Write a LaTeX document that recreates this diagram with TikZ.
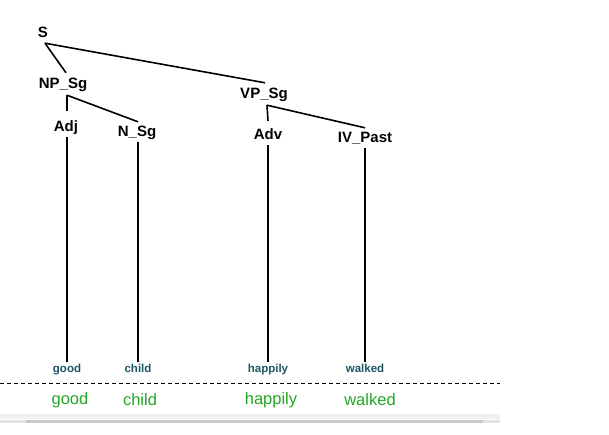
\documentclass[tikz,border=0pt]{standalone}
\usepackage{fontspec}
\setmainfont{Liberation Sans}
\definecolor{leafcol}{HTML}{1B5566}
\definecolor{wordcol}{HTML}{22A822}
\definecolor{bandA}{HTML}{F0F0F0}
\definecolor{bandB}{HTML}{E2E2E2}
\definecolor{bandC}{HTML}{C8C8C8}
\begin{document}
\begin{tikzpicture}[x=1pt,y=-1pt,
  cat/.style={font=\fontsize{15}{18}\selectfont\bfseries, inner sep=2pt, text height=11pt, text depth=3pt},
  leaf/.style={font=\fontsize{11.5}{14}\selectfont\bfseries, text=leafcol, inner sep=1pt, text height=8.5pt, text depth=2.5pt},
  word/.style={font=\fontsize{16.5}{20}\selectfont, text=wordcol, inner sep=0pt},
  edge/.style={line width=1.6pt, black}]
\useasboundingbox (0,0) rectangle (609,435);
\fill[white] (0,0) rectangle (609,435);
% category nodes
\node[cat] (S) at (43,34) {S};
\node[cat] (NP) at (63,85) {NP\_Sg};
\node[cat] (Adj) at (66,128) {Adj};
\node[cat] (N) at (137,133) {N\_Sg};
\node[cat] (VP) at (264,95) {VP\_Sg};
\node[cat] (Adv) at (268,136) {Adv};
\node[cat] (IV) at (365,139) {IV\_Past};
% leaves
\node[leaf] (lgood) at (67,369) {good};
\node[leaf] (lchild) at (138,369) {child};
\node[leaf] (lhappily) at (268,369) {happily};
\node[leaf] (lwalked) at (365,369) {walked};
% words
\node[word] (wgood) at (70,400) {good};
\node[word] (wchild) at (140,400) {child};
\node[word] (whappily) at (271,400) {happily};
\node[word] (wwalked) at (370,400) {walked};
% edges
\draw[edge] ([xshift=2pt]S.south) -- ([xshift=3pt,yshift=3pt]NP.north);
\draw[edge] ([xshift=2pt]S.south) -- ([xshift=1pt,yshift=3pt]VP.north);
\draw[edge] ([xshift=4pt,yshift=-1pt]NP.south) -- ([xshift=1pt,yshift=8pt]Adj.north);
\draw[edge] ([xshift=4pt,yshift=-1pt]NP.south) -- ([xshift=1pt,yshift=2pt]N.north);
\draw[edge] ([xshift=3pt,yshift=-1pt]VP.south) -- ([yshift=6pt]Adv.north);
\draw[edge] ([xshift=3pt,yshift=-1pt]VP.south) -- ([yshift=2pt]IV.north);
\draw[edge] ([xshift=1pt]Adj.south) -- (lgood.north);
\draw[edge] ([xshift=1pt]N.south) -- (lchild.north);
\draw[edge] (Adv.south) -- (lhappily.north);
\draw[edge] (IV.south) -- (lwalked.north);
% dashed separator
\coordinate (dl) at (0,383);
\coordinate (dr) at (500,383);
\draw[line width=1pt, dash pattern=on 4pt off 3pt] (dl) -- (dr);
% bottom band (scrollbar)
\fill[bandA] (0,414) rectangle (500,419);
\fill[bandB] (0,419.5) rectangle (500,422.5);
\fill[bandC] (26,419.5) rectangle (483,422.5);
\end{tikzpicture}
\end{document}
